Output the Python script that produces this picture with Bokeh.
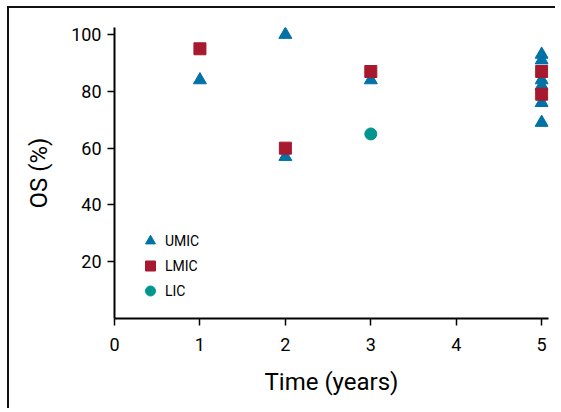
from bokeh.plotting import figure
from bokeh.models import Range1d, FixedTicker, Legend, LegendItem
from bokeh.embed import file_html
from bokeh.resources import INLINE

# Data
umic_x = [1, 2, 2, 3, 5, 5, 5, 5, 5, 5]
umic_y = [84, 100, 57, 84, 93, 91, 84, 82, 76, 69]
lmic_x = [1, 2, 3, 5, 5]
lmic_y = [95, 60, 87, 87, 79]
lic_x = [3]
lic_y = [65]
x_ticks = [0, 1, 2, 3, 4, 5]
y_ticks = [20, 40, 60, 80, 100]
series_names = ["UMIC", "LMIC", "LIC"]

BLUE = "#0072a6"
RED = "#a6192e"
TEAL = "#00968f"
FONT = "Roboto"

p = figure(width=548, height=402, output_backend="svg", toolbar_location=None,
           x_range=Range1d(0, 5.08), y_range=Range1d(0, 102.5),
           min_border_left=105, min_border_right=9, min_border_top=19,
           min_border_bottom=92, margin=(6, 0, 0, 7))
p.styles = {"border-top": "2px solid #111", "border-left": "2px solid #111"}
p.grid.visible = False
p.outline_line_color = None
p.background_fill_color = "white"

for ax in (p.xaxis[0], p.yaxis[0]):
    ax.axis_line_width = 2
    ax.axis_line_color = "black"
    ax.major_tick_line_width = 1.5
    ax.major_tick_line_color = "black"
    ax.major_tick_out = 7
    ax.major_tick_in = 0
    ax.minor_tick_line_color = None
    ax.major_label_text_font = FONT
    ax.major_label_text_font_size = "18px"
    ax.major_label_text_color = "black"
    ax.axis_label_text_font = FONT
    ax.axis_label_text_font_size = "24px"
    ax.axis_label_text_font_style = "normal"
    ax.axis_label_text_color = "black"

p.xaxis.ticker = FixedTicker(ticks=x_ticks)
p.yaxis.ticker = FixedTicker(ticks=y_ticks)
p.xaxis.axis_label = "Time (years)"
p.yaxis.axis_label = "OS (%)"
p.xaxis.major_label_standoff = 12
p.yaxis.major_label_standoff = 6
p.xaxis.axis_label_standoff = 14
p.yaxis.axis_label_standoff = 15

r1 = p.scatter(umic_x, umic_y, marker="triangle", size=13, color=BLUE, line_color=BLUE)
r2 = p.scatter(lmic_x, lmic_y, marker="square", size=12, color=RED, line_color=RED)
r3 = p.scatter(lic_x, lic_y, marker="circle", size=12, color=TEAL, line_color=TEAL)

legend = Legend(items=[LegendItem(label=series_names[0], renderers=[r1]),
                       LegendItem(label=series_names[1], renderers=[r2]),
                       LegendItem(label=series_names[2], renderers=[r3])],
                location=(21, 15), padding=0, margin=0, spacing=0,
                glyph_width=30, glyph_height=25, label_height=25,
                label_standoff=0,
                border_line_color=None, background_fill_alpha=0,
                label_text_font=FONT, label_text_font_size="14px",
                label_text_color="black")
p.add_layout(legend)

open("out.html", "w").write(file_html(p, INLINE))
